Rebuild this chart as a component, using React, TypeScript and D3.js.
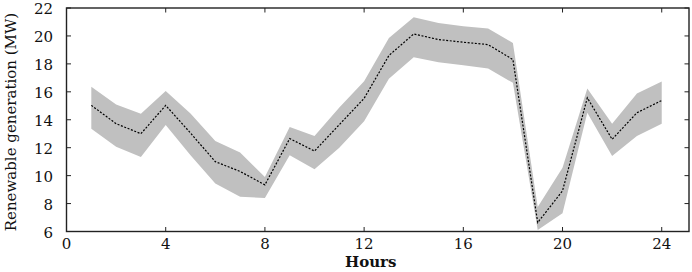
import * as d3 from 'd3';

const HOURS = [1, 2, 3, 4, 5, 6, 7, 8, 9, 10, 11, 12, 13, 14, 15, 16, 17, 18, 19, 20, 21, 22, 23, 24];
const MEAN = [15.03, 13.72, 13.0, 15.03, 13.05, 11.0, 10.3, 9.34, 12.65, 11.76, 13.65, 15.53, 18.6, 20.14, 19.74, 19.55, 19.38, 18.31, 6.64, 8.91, 15.57, 12.6, 14.5, 15.38];
const UPPER = [16.36, 15.1, 14.43, 16.05, 14.45, 12.48, 11.66, 9.9, 13.48, 12.84, 14.88, 16.76, 19.86, 21.34, 20.93, 20.69, 20.53, 19.5, 7.76, 10.57, 16.24, 13.71, 15.88, 16.73];
const LOWER = [13.36, 12.07, 11.34, 13.62, 11.45, 9.43, 8.48, 8.4, 11.46, 10.46, 12.0, 13.9, 16.93, 18.48, 18.12, 17.9, 17.67, 16.64, 6.1, 7.31, 14.5, 11.41, 12.84, 13.72];
const X_TICKS = [0, 4, 8, 12, 16, 20, 24];
const Y_TICKS = [6, 8, 10, 12, 14, 16, 18, 20, 22];

const W = 692;
const H = 272;
const M = { left: 66.5, right: 3, top: 8, bottom: 40.5 };
const FONT = '"DejaVu Serif", serif';

export default function App() {
  const x = d3.scaleLinear().domain([0, 25.1]).range([M.left, W - M.right]);
  const y = d3.scaleLinear().domain([6, 22]).range([H - M.bottom, M.top]);

  const rows = HOURS.map((h, i) => ({ h, mean: MEAN[i], lo: LOWER[i], hi: UPPER[i] }));

  // band between lower and upper bound, dotted mean on top
  const area = d3.area<any>()
    .x(d => x(d.h))
    .y0(d => y(d.lo))
    .y1(d => y(d.hi));
  const line = d3.line<any>()
    .x(d => x(d.h))
    .y(d => y(d.mean));

  const [x0, x1] = x.range();
  const [y0, y1] = y.range();
  const tick = 4.5;
  const axisColor = '#222';

  return (
    <svg width={W} height={H} style={{ position: 'absolute', left: 0, top: 0 }}>
      <rect width={W} height={H} fill="#fff" />
      <path d={area(rows) || ''} fill="#c0c0c0" />
      <path d={line(rows) || ''} fill="none" stroke="#000" strokeWidth={1.2} strokeDasharray="2,1.6" />

      <rect x={x0} y={y1} width={x1 - x0} height={y0 - y1} fill="none" stroke={axisColor} strokeWidth={1.4} />

      {X_TICKS.map(t => (
        <g key={'x' + t}>
          <line x1={x(t)} x2={x(t)} y1={y0} y2={y0 - tick} stroke={axisColor} strokeWidth={1} />
          <line x1={x(t)} x2={x(t)} y1={y1} y2={y1 + tick} stroke={axisColor} strokeWidth={1} />
          <text x={x(t)} y={y0 + 17} textAnchor="middle" fontFamily={FONT} fontSize={15} fill="#111">{t}</text>
        </g>
      ))}
      {Y_TICKS.map(t => (
        <g key={'y' + t}>
          <line x1={x0} x2={x0 + tick} y1={y(t)} y2={y(t)} stroke={axisColor} strokeWidth={1} />
          <line x1={x1} x2={x1 - tick} y1={y(t)} y2={y(t)} stroke={axisColor} strokeWidth={1} />
          <text x={53} y={y(t)} dy="0.4em" textAnchor="end" fontFamily={FONT} fontSize={15} fill="#111">{t}</text>
        </g>
      ))}

      <text x={(x0 + 689) / 2 - 7} y={267} textAnchor="middle" fontFamily={FONT} fontSize={15} fontWeight="bold" fill="#111">Hours</text>
      <text transform={`translate(16,${122}) rotate(-90)`} textAnchor="middle" fontFamily={FONT} fontSize={15} fill="#111">Renewable generation (MW)</text>
    </svg>
  );
}
